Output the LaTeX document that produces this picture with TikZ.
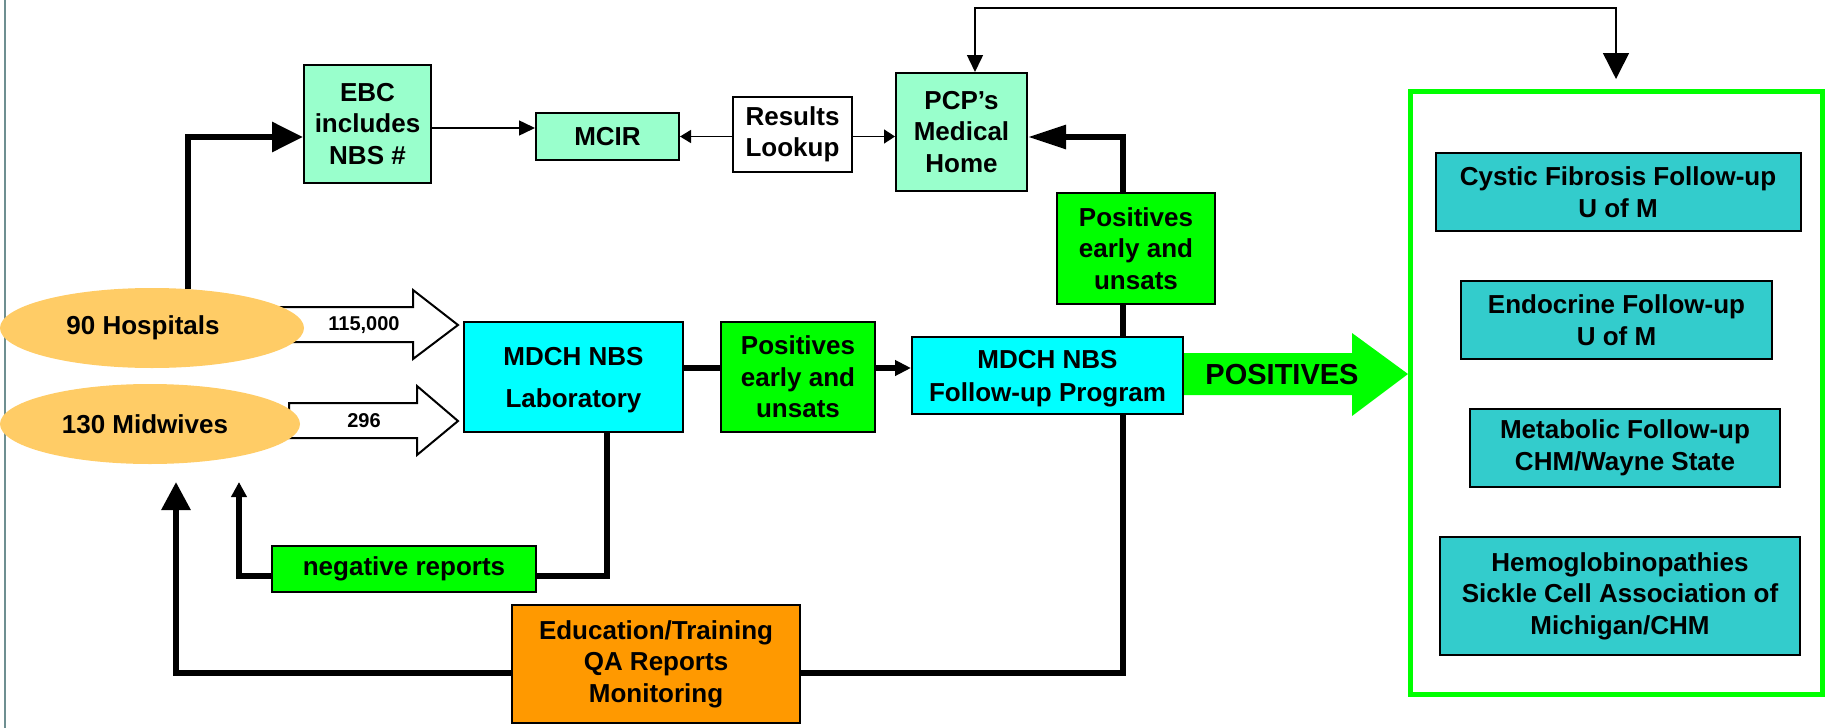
\documentclass[tikz,border=0pt]{standalone}
\usepackage{fontspec}
\setmainfont{Liberation Sans}
\usetikzlibrary{arrows.meta,shapes.geometric,calc}
\pgfdeclarelayer{bg}
\pgfsetlayers{bg,main}
\definecolor{mint}{HTML}{99FFCC}
\definecolor{lime}{HTML}{00FF00}
\definecolor{aqua}{HTML}{00FFFF}
\definecolor{peach}{HTML}{FFCC66}
\definecolor{orng}{HTML}{FF9900}
\definecolor{tealbox}{HTML}{33CCCC}
\definecolor{edgegray}{HTML}{6E8F91}
\newcommand\bxfont{\fontsize{26pt}{31.5pt}\selectfont\bfseries}
\begin{document}
\begin{tikzpicture}[x=1pt,y=-1pt,
  bx/.style={draw=black, line width=2pt, inner sep=0pt, align=center, font=\bxfont},
  oval/.style={ellipse, fill=peach, inner sep=0pt, font=\bxfont},
  heavy/.style={line width=6pt},
  fine/.style={line width=1.5pt}]
\useasboundingbox (0,0) rectangle (1826,728);

% nodes
\node[bx, fill=mint, minimum width=127pt, minimum height=118pt] (ebc) at (367.5,124) {EBC\\includes\\NBS \#};
\node[bx, fill=mint, minimum width=143pt, minimum height=47pt] (mcir) at (607.5,136.5) {MCIR};
\node[bx, fill=white, minimum width=119pt, minimum height=75pt] (res) at (792.5,134.5) {Results\\Lookup};
\node[bx, fill=mint, minimum width=131pt, minimum height=118pt] (pcp) at (961.5,132) {PCP’s\\Medical\\Home};
\node[bx, fill=lime, minimum width=158pt, minimum height=111pt] (upos) at (1136,248.5) {Positives\\early and\\unsats};
\node[bx, fill=aqua, minimum width=219pt, minimum height=110pt, text depth=0pt, font=\fontsize{26pt}{42pt}\selectfont\bfseries] (lab) at (573.5,377) {MDCH NBS\\Laboratory};
\node[bx, fill=lime, minimum width=154pt, minimum height=110pt] (lpos) at (798,377) {Positives\\early and\\unsats};
\node[bx, fill=aqua, minimum width=271pt, minimum height=77pt, text depth=0pt, font=\fontsize{26pt}{33pt}\selectfont\bfseries] (fu) at (1047.5,375.5) {MDCH NBS\\Follow-up Program};
\node[bx, fill=lime, minimum width=264pt, minimum height=46pt] (neg) at (404,569) {negative reports};
\node[bx, fill=orng, minimum width=288pt, minimum height=118pt] (edu) at (656,664) {Education/Training\\QA Reports\\Monitoring};

\node[draw=lime, line width=5pt, minimum width=412pt, minimum height=603pt, inner sep=0pt] (cont) at (1616,392.5) {};
\node[bx, fill=tealbox, minimum width=365pt, minimum height=78pt] (cf) at (1618,192) {Cystic Fibrosis Follow-up\\U of M};
\node[bx, fill=tealbox, minimum width=311pt, minimum height=78pt] (endo) at (1616.5,320) {Endocrine Follow-up\\U of M};
\node[bx, fill=tealbox, minimum width=310pt, minimum height=78pt] (meta) at (1625,448) {Metabolic Follow-up\\CHM/Wayne State};
\node[bx, fill=tealbox, minimum width=360pt, minimum height=118pt] (hemo) at (1620,596) {Hemoglobinopathies\\Sickle Cell Association of\\Michigan/CHM};

\node[oval, minimum width=304pt, minimum height=80pt] (hosp) at (152,328) {\hspace*{-18pt}90 Hospitals};
\node[oval, minimum width=300pt, minimum height=80pt] (mid) at (150,424) {\hspace*{-10pt}130 Midwives};

\node[font=\fontsize{20pt}{24pt}\selectfont\bfseries] (n1) at (364,325) {115,000};
\node[font=\fontsize{20pt}{24pt}\selectfont\bfseries] (n2) at (364,421) {296};
\node[font=\fontsize{29pt}{34pt}\selectfont\bfseries] (pos) at (1282,375) {POSITIVES};

% background shapes
\begin{pgfonlayer}{bg}
\draw[edgegray, line width=2pt] (5,0) -- (5,728);
\draw[line width=2pt, fill=white, line join=miter]
  (270,307) -- (413,307) -- (413,290) -- (458,325) -- (413,359) -- (413,342) -- (270,342) -- cycle;
\draw[line width=2pt, fill=white, line join=miter]
  (289,403) -- (417,403) -- (417,386) -- (458,421) -- (417,455) -- (417,438) -- (289,438) -- cycle;
\fill[lime] (1183,353) -- (1352,353) -- (1352,333) -- (1408,374) -- (1352,416) -- (1352,395) -- (1183,395) -- cycle;
\end{pgfonlayer}

% coordinates
\coordinate (h1) at (188,289);
\coordinate (e1) at ([yshift=-4pt]ebc.east);
\coordinate (tl) at (975,8);
\coordinate (tr) at (1616,8);
\coordinate (ctip) at (1616,79);
\coordinate (vx) at (1123,0);
\coordinate (lx) at (607,0);
\coordinate (m1) at ([yshift=9pt]lab.east);
\coordinate (negtip) at (239,482);
\coordinate (uptip) at (176,482);

% connectors
\draw[heavy, -{Triangle[length=31pt,width=29pt]}] (h1) |- ([yshift=-13pt]ebc.west);
\draw[fine, -{Triangle[length=16pt,width=15pt]}] (e1) -- (e1 -| mcir.west);
\draw[fine, -{Triangle[length=11pt,width=13pt]}] (res.west |- mcir.east) -- (mcir.east);
\draw[fine, -{Triangle[length=11pt,width=14pt]}] (res.east |- mcir.east) -- (pcp.west |- mcir.east);
\draw[fine, {Triangle[length=17pt,width=16pt]}-{Triangle[length=26pt,width=26pt]}]
  (pcp.north -| tl) -- (tl) -- (tr) -- (ctip);
\draw[heavy, -{Triangle[length=38pt,width=23pt]}] (upos.north -| vx) |- ([yshift=-5pt]pcp.east);
\draw[heavy] (upos.south -| vx) -- (fu.north -| vx);
\draw[heavy] (fu.south -| vx) |- ([yshift=-9pt]edu.east);
\draw[heavy, -{Triangle[length=28pt,width=28pt]}] ([yshift=-9pt]edu.west) -| (uptip);
\draw[heavy] (m1) -- (m1 -| lpos.west);
\draw[heavy, -{Triangle[length=16pt,width=15pt]}] (m1 -| lpos.east) -- (m1 -| fu.west);
\draw[heavy] (lab.south -| lx) |- ([yshift=-7pt]neg.east);
\draw[heavy, -{Triangle[length=15pt,width=15pt]}] ([yshift=-7pt]neg.west) -| (negtip);
\end{tikzpicture}
\end{document}
